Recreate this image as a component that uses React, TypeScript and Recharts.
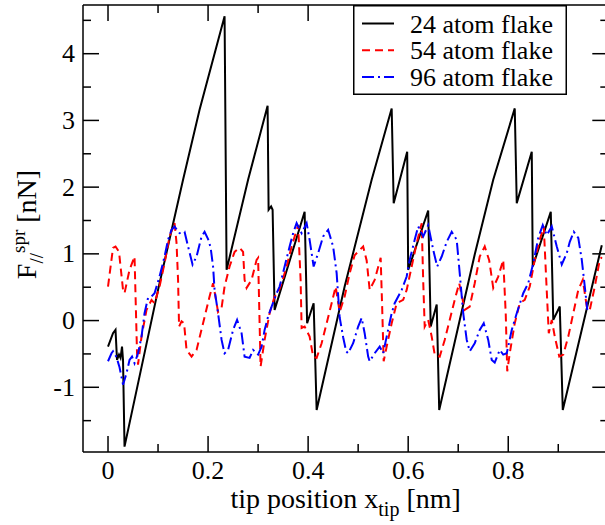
import { LineChart, Line, XAxis, YAxis, ReferenceLine, Legend } from 'recharts';

// tip position x (nm), spring force F (nN)
const flake24: [number, number][] = [
  [0, -0.39], [0.01, -0.19], [0.015, -0.14], [0.018, -0.59], [0.022, -0.51], [0.025, -0.56],
  [0.028, -0.39], [0.03, -0.59], [0.033, -1.89], [0.1, 0.46], [0.15, 2.11], [0.183, 3.16],
  [0.233, 4.56], [0.237, 0.76], [0.28, 2.11], [0.319, 3.22], [0.321, 1.66], [0.326, 1.71],
  [0.329, 1.66], [0.333, 0.16], [0.393, 1.63], [0.398, -0.04], [0.411, 0.26], [0.417, -1.34],
  [0.473, 0.51], [0.527, 2.11], [0.567, 3.18], [0.571, 1.76], [0.598, 2.53], [0.6, 0.76],
  [0.64, 1.65], [0.645, -0.09], [0.657, 0.24], [0.662, -1.34], [0.733, 0.99], [0.77, 2.11],
  [0.813, 3.18], [0.817, 1.76], [0.847, 2.53], [0.849, 0.81], [0.885, 1.63], [0.89, 0.01],
  [0.903, 0.21], [0.909, -1.34], [0.987, 1.13],
];

const flake54: [number, number][] = [
  [0, 0.51], [0.01, 1.09], [0.015, 1.11], [0.022, 1.03], [0.03, 0.46], [0.033, 0.41],
  [0.043, 0.76], [0.053, 0.96], [0.058, -0.49], [0.06, -0.66], [0.067, -0.24], [0.077, 0.16],
  [0.087, 0.31], [0.093, 0.26], [0.103, 0.51], [0.113, 0.86], [0.123, 1.26], [0.133, 1.46],
  [0.137, 1.16], [0.14, 0.61], [0.142, -0.09], [0.147, -0.01], [0.152, -0.04], [0.157, -0.44],
  [0.167, -0.54], [0.177, -0.44], [0.19, -0.04], [0.203, 0.36], [0.21, 0.56], [0.22, 0.13],
  [0.227, 0.19], [0.233, 0.51], [0.243, 0.81], [0.253, 1.03], [0.263, 1.09], [0.27, 1.03],
  [0.273, 0.61], [0.277, 0.49], [0.287, 0.61], [0.297, 0.91], [0.3, 0.94], [0.305, -0.69],
  [0.313, -0.29], [0.323, 0.11], [0.333, 0.36], [0.34, 0.41], [0.347, 0.56], [0.357, 0.81],
  [0.367, 1.11], [0.38, 1.43], [0.385, 0.61], [0.387, -0.11], [0.393, -0.09], [0.403, -0.24],
  [0.41, -0.54], [0.417, -0.56], [0.427, -0.34], [0.437, -0.04], [0.447, 0.26], [0.455, 0.51],
  [0.463, 0.13], [0.473, 0.36], [0.483, 0.71], [0.493, 0.98], [0.51, 1.11], [0.517, 0.9],
  [0.523, 0.46], [0.533, 0.61], [0.545, 0.94], [0.548, 0.2], [0.551, -0.61], [0.557, -0.39],
  [0.567, -0.04], [0.577, 0.26], [0.59, 0.31], [0.597, 0.46], [0.607, 0.81], [0.617, 1.16],
  [0.627, 1.46], [0.63, 0.6], [0.633, -0.09], [0.64, 0.01], [0.647, -0.24], [0.653, -0.51],
  [0.663, -0.54], [0.673, -0.29], [0.683, 0.01], [0.693, 0.31], [0.702, 0.56], [0.713, 0.16],
  [0.723, 0.21], [0.733, 0.56], [0.743, 0.96], [0.753, 1.11], [0.762, 0.9], [0.77, 0.49],
  [0.78, 0.66], [0.79, 0.91], [0.795, 0.1], [0.798, -0.76], [0.803, -0.49], [0.813, -0.04],
  [0.823, 0.26], [0.833, 0.31], [0.843, 0.51], [0.853, 0.91], [0.863, 1.21], [0.871, 1.41],
  [0.876, 0.6], [0.881, -0.19], [0.887, 0.01], [0.893, -0.24], [0.902, -0.54], [0.91, -0.51],
  [0.92, -0.24], [0.93, 0.11], [0.94, 0.46], [0.949, 0.61], [0.957, 0.21], [0.963, 0.16],
  [0.973, 0.51], [0.983, 0.91], [0.987, 0.95],
];

const flake96: [number, number][] = [
  [0, -0.61], [0.007, -0.49], [0.01, -0.46], [0.017, -0.55], [0.023, -0.7], [0.03, -0.96],
  [0.037, -0.79], [0.043, -0.59], [0.048, -0.54], [0.053, -0.64], [0.06, -0.49], [0.067, -0.24],
  [0.073, 0.11], [0.08, 0.34], [0.087, 0.36], [0.093, 0.41], [0.103, 0.66], [0.113, 0.96],
  [0.12, 1.21], [0.127, 1.36], [0.133, 1.41], [0.143, 1.31], [0.153, 1.33], [0.16, 1.11],
  [0.169, 0.84], [0.177, 0.96], [0.187, 1.26], [0.193, 1.33], [0.2, 1.22], [0.205, 1.1],
  [0.21, 0.81], [0.213, 0.46], [0.22, 0.11], [0.227, -0.29], [0.233, -0.49], [0.24, -0.44],
  [0.25, -0.14], [0.258, 0.01], [0.267, -0.19], [0.273, -0.54], [0.283, -0.56], [0.29, -0.44],
  [0.3, -0.51], [0.307, -0.39], [0.313, -0.14], [0.32, 0.06], [0.327, 0.21], [0.337, 0.41],
  [0.343, 0.51], [0.353, 0.81], [0.363, 1.11], [0.37, 1.31], [0.377, 1.46], [0.387, 1.31],
  [0.397, 1.46], [0.403, 1.21], [0.411, 0.81], [0.42, 1.01], [0.43, 1.26], [0.44, 1.36],
  [0.45, 1.11], [0.457, 0.71], [0.463, 0.05], [0.47, -0.25], [0.476, -0.46], [0.48, -0.49],
  [0.49, -0.34], [0.5, -0.09], [0.507, 0.04], [0.513, -0.19], [0.52, -0.54], [0.523, -0.61],
  [0.533, -0.49], [0.543, -0.39], [0.55, -0.49], [0.557, -0.24], [0.567, 0.11], [0.573, 0.26],
  [0.587, 0.46], [0.597, 0.66], [0.603, 0.91], [0.613, 1.21], [0.62, 1.41], [0.63, 1.26],
  [0.64, 1.43], [0.65, 1.06], [0.658, 0.81], [0.667, 0.96], [0.677, 1.18], [0.687, 1.33],
  [0.697, 1.21], [0.703, 0.71], [0.71, 0.11], [0.717, -0.29], [0.723, -0.46], [0.733, -0.34],
  [0.743, -0.14], [0.751, -0.04], [0.76, -0.29], [0.767, -0.59], [0.773, -0.63], [0.783, -0.44],
  [0.79, -0.51], [0.797, -0.49], [0.807, -0.14], [0.817, 0.11], [0.83, 0.41], [0.84, 0.56],
  [0.85, 0.86], [0.86, 1.24], [0.869, 1.43], [0.877, 1.28], [0.887, 1.41], [0.897, 1.11],
  [0.907, 0.84], [0.917, 1.01], [0.923, 1.18], [0.931, 1.33], [0.94, 1.24], [0.947, 0.91],
  [0.953, 0.51], [0.958, 0.16],
];

const xTicks = [0, 0.1, 0.2, 0.3, 0.4, 0.5, 0.6, 0.7, 0.8, 0.9];
const yTicks = [-1.5, -1, -0.5, 0, 0.5, 1, 1.5, 2, 2.5, 3, 3.5, 4, 4.5];
const X_DOMAIN: [number, number] = [-0.05, 1.0];
const Y_DOMAIN: [number, number] = [-1.97, 4.73];

const seriesNames = ['24 atom flake', '54 atom flake', '96 atom flake'];
const seriesColors = ['#000000', '#ff0000', '#0000ff'];
const seriesDash = ['', '8 5', '12 4 2 4'];

// plot frame (px)
const L = 83;
const R = 608.3;
const T = 5;
const B = 452;

const toPoints = (arr: [number, number][]) => arr.map(([x, y]) => ({ x, y }));
const allSeries = [toPoints(flake24), toPoints(flake54), toPoints(flake96)];

const FONT = "'Liberation Serif', 'Times New Roman', serif";

const renderXTick = (props: any) => {
  const { x, payload } = props;
  const v = payload.value;
  const major = Math.round(v * 10) % 2 === 0;
  const len = major ? 16 : 8;
  return (
    <g>
      <line x1={x} x2={x} y1={B} y2={B - len} stroke="#000" strokeWidth={1.5} />
      <line x1={x} x2={x} y1={T} y2={T + len} stroke="#000" strokeWidth={1.5} />
      {major && (
        <text x={x} y={479} textAnchor="middle" style={{ fontFamily: FONT, fontSize: 26 }} fill="#000">
          {String(Number(v.toFixed(1)))}
        </text>
      )}
    </g>
  );
};

const renderYTick = (props: any) => {
  const { y, payload } = props;
  const v = payload.value;
  const major = Number.isInteger(v);
  const len = major ? 16 : 8;
  return (
    <g>
      <line x1={L} x2={L + len} y1={y} y2={y} stroke="#000" strokeWidth={1.5} />
      <line x1={R} x2={R - len} y1={y} y2={y} stroke="#000" strokeWidth={1.5} />
      {major && (
        <text x={75} y={y} textAnchor="end" dominantBaseline="central" style={{ fontFamily: FONT, fontSize: 26 }} fill="#000">
          {String(v)}
        </text>
      )}
    </g>
  );
};

const renderXTitle = (props: any) => {
  const vb = props.viewBox;
  return (
    <text x={vb.x + vb.width / 2} y={508} textAnchor="middle" style={{ fontFamily: FONT, fontSize: 28 }} fill="#000">
      tip position x
      <tspan dy={8} style={{ fontSize: 20 }}>tip</tspan>
      <tspan dy={-8} style={{ fontSize: 28 }}> [nm]</tspan>
    </text>
  );
};

const renderYTitle = (props: any) => {
  const vb = props.viewBox;
  const cy = vb.y + vb.height / 2 - 4;
  return (
    <text transform={`translate(36, ${cy}) rotate(-90)`} textAnchor="middle" style={{ fontFamily: FONT, fontSize: 28 }} fill="#000">
      F
      <tspan dy={7} style={{ fontSize: 19 }}>//</tspan>
      <tspan dy={-18} style={{ fontSize: 19 }}>spr</tspan>
      <tspan dy={11} style={{ fontSize: 28 }}> [nN]</tspan>
    </text>
  );
};

const renderLegend = () => (
  <svg width={214} height={90} style={{ display: 'block' }}>
    <rect x={0.75} y={0.75} width={212.5} height={88.5} fill="#fff" stroke="#000" strokeWidth={1.5} />
    {seriesNames.map((name, i) => (
      <g key={name}>
        <line
          x1={9}
          x2={41}
          y1={18.5 + i * 26.7}
          y2={18.5 + i * 26.7}
          stroke={seriesColors[i]}
          strokeWidth={2}
          strokeDasharray={seriesDash[i] || undefined}
        />
        <text x={57} y={27.5 + i * 26.7} style={{ fontFamily: FONT, fontSize: 26 }} fill="#000">
          {name}
        </text>
      </g>
    ))}
  </svg>
);

export default function App() {
  return (
    <div style={{ position: 'absolute', left: 0, top: 0, width: 605, height: 525, overflow: 'hidden', background: '#fff', fontFamily: FONT }}>
      <LineChart width={612} height={525} margin={{ top: T, right: 612 - R, bottom: 0, left: 0 }}>
        <XAxis
          type="number"
          dataKey="x"
          domain={X_DOMAIN}
          ticks={xTicks}
          allowDataOverflow
          height={73}
          tickLine={false}
          axisLine={{ stroke: '#000', strokeWidth: 1.5 }}
          tick={renderXTick}
          interval={0}
          label={{ content: renderXTitle }}
        />
        <YAxis
          type="number"
          domain={Y_DOMAIN}
          ticks={yTicks}
          allowDataOverflow
          width={L}
          tickLine={false}
          axisLine={{ stroke: '#000', strokeWidth: 1.5 }}
          tick={renderYTick}
          interval={0}
          label={{ content: renderYTitle }}
        />
        <ReferenceLine y={Y_DOMAIN[1]} stroke="#000" strokeWidth={1.5} />
        <ReferenceLine x={X_DOMAIN[1]} stroke="#000" strokeWidth={1.5} />
        {allSeries.map((pts, i) => (
          <Line
            key={seriesNames[i]}
            data={pts}
            dataKey="y"
            name={seriesNames[i]}
            type="linear"
            stroke={seriesColors[i]}
            strokeWidth={2}
            strokeDasharray={seriesDash[i] || undefined}
            dot={false}
            activeDot={false}
            isAnimationActive={false}
          />
        ))}
        <Legend
          layout="horizontal"
          verticalAlign="middle"
          align="center"
          wrapperStyle={{ top: 5, left: 352.5, width: 214, height: 90 }}
          content={renderLegend}
        />
      </LineChart>
    </div>
  );
}
